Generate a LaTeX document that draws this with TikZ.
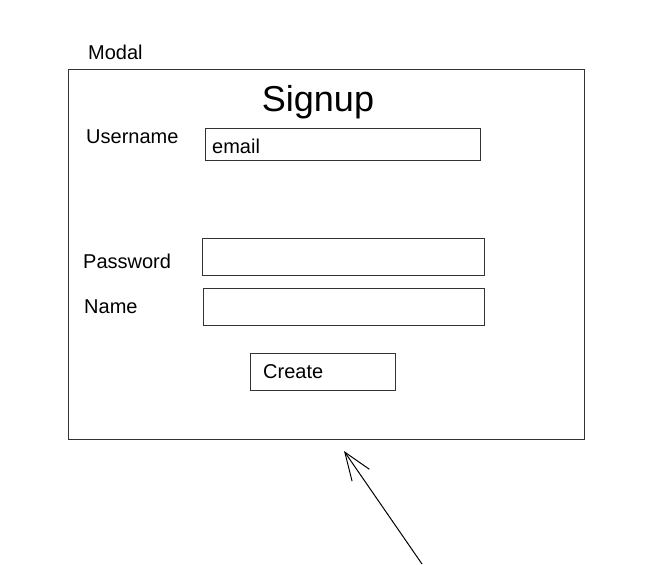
\documentclass[tikz,border=0pt]{standalone}
\usepackage{fontspec}
\setmainfont{Liberation Sans}
\usetikzlibrary{arrows.meta}

\begin{document}
\begin{tikzpicture}[x=1pt,y=-1pt,
    box/.style={draw=black!80, line width=1.4pt, inner sep=0pt, anchor=north west},
    lbl/.style={inner sep=0pt, anchor=west, font=\fontsize{20}{23}\selectfont}]
        \useasboundingbox (0,0) rectangle (660,564);

        \node[lbl] (modallbl) at (88,52) {Modal};
        \node[box, minimum width=516pt, minimum height=370pt] (modal) at (68,69) {};
        \node[inner sep=0pt, font=\fontsize{36}{40}\selectfont] (title) at (318,102) {Signup};

        \node[lbl] (user) at (86,137) {Username};
        \node[box, minimum width=275pt, minimum height=32pt] (userbox) at (205,128) {};
        \node[lbl] (email) at (212,146) {email};

        \node[lbl] (pass) at (83,261) {Password};
        \node[box, minimum width=282pt, minimum height=37pt] (passbox) at (202,238) {};

        \node[lbl] (name) at (84,307) {Name};
        \node[box, minimum width=281pt, minimum height=37pt] (namebox) at (203,288) {};

        \node[box, minimum width=145pt, minimum height=37pt] (create) at (250,353) {};
        \node[lbl] (createlbl) at (263,372) {Create};

        \coordinate (tip) at (344,451);
        \coordinate (tail) at (422,564);
        \draw[-{Straight Barb[length=28pt,width=21pt]}, line width=1pt] (tail) -- (tip);
    \end{tikzpicture}
\end{document}
